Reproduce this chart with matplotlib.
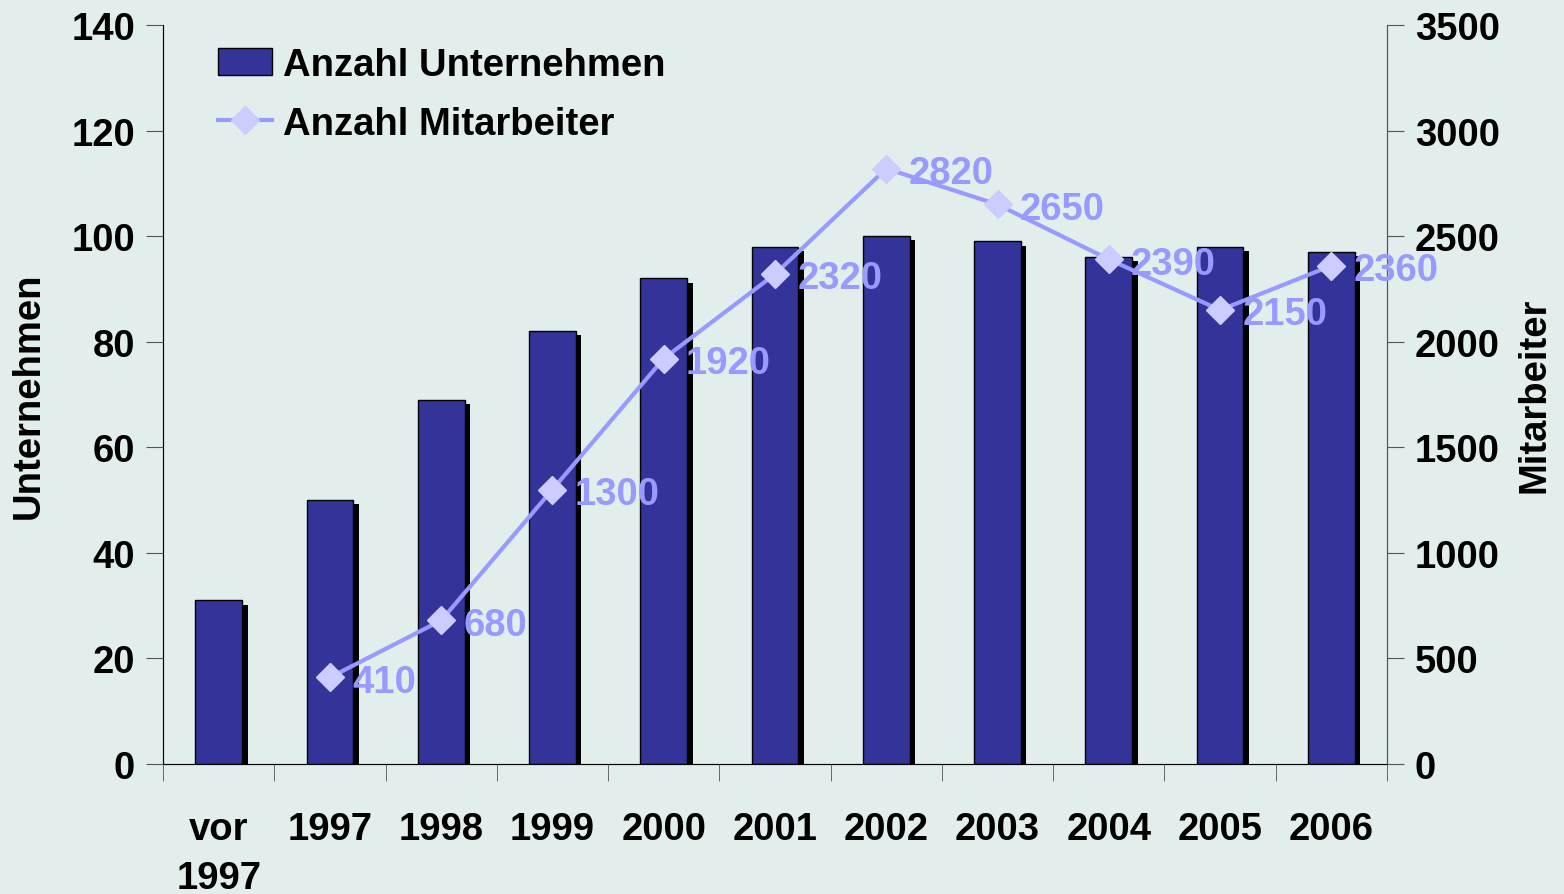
import numpy as np
import matplotlib.pyplot as plt
import matplotlib.patheffects as pe
from matplotlib.patches import Patch

plt.rcParams['font.family'] = ['Liberation Sans', 'DejaVu Sans']
plt.rcParams['font.weight'] = 'bold'

kategorien = ['vor\n1997', '1997', '1998', '1999', '2000', '2001', '2002', '2003', '2004', '2005', '2006']
unternehmen = [31, 50, 69, 82, 92, 98, 100, 99, 96, 98, 97]
ma_jahre = ['1997', '1998', '1999', '2000', '2001', '2002', '2003', '2004', '2005', '2006']
mitarbeiter = [410, 680, 1300, 1920, 2320, 2820, 2650, 2390, 2150, 2360]

fs = 27.5

fig = plt.figure(figsize=(15.64, 8.95), dpi=100, facecolor='#e1eeec')
ax = fig.add_axes([163/1564, 1 - 765/895, 1224/1564, 739/895])
ax.set_facecolor('none')

x = np.arange(len(kategorien))
bars = ax.bar(x, unternehmen, width=0.42, color='#333399', edgecolor='black', linewidth=1, zorder=3)
for b in bars:
    b.set_path_effects([pe.SimplePatchShadow(offset=(4, -3), shadow_rgbFace='black', alpha=1), pe.Normal()])

ax.set_xlim(-0.5, len(kategorien) - 0.5)
ax.set_ylim(0, 140)
ax.set_yticks(range(0, 141, 20))
ax.set_xticks(x)
ax.set_xticklabels(kategorien, fontsize=fs, fontweight='bold', va='top', linespacing=1.45)
ax.set_xticks(np.arange(-0.5, len(kategorien)), minor=True)
ax.tick_params(axis='x', which='major', length=0, pad=34)
ax.tick_params(axis='x', which='minor', length=12, direction='out', color='#555555')
ax.tick_params(axis='y', labelsize=fs, length=12, color='#555555', pad=8)
ax.set_ylabel('Unternehmen', fontsize=fs, fontweight='bold', labelpad=18)
ax.spines['top'].set_visible(False)
for s in ['left', 'bottom', 'right']:
    ax.spines[s].set_color('#555555')

ax2 = ax.twinx()
ax2.set_ylim(0, 3500)
ax2.set_yticks(range(0, 3501, 500))
ax2.tick_params(axis='y', labelsize=fs, length=12, color='#555555', pad=8)
ax2.spines['top'].set_visible(False)
ax2.spines['right'].set_color('#555555')
ax2.set_ylabel('Mitarbeiter', fontsize=fs, fontweight='bold', labelpad=12)

xm = np.arange(1, len(kategorien))
line, = ax2.plot(xm, mitarbeiter, color='#9999ff', lw=3, marker='D', markersize=14,
                 markerfacecolor='#ccccff', markeredgecolor='#ccccff', zorder=5)
for xi, v in zip(xm, mitarbeiter):
    ax2.annotate(str(v), (xi, v), xytext=(16, -3), textcoords='offset points', va='center', ha='left',
                 fontsize=fs, fontweight='bold', color='#9999ff', zorder=6)

for t in ax.get_yticklabels() + ax2.get_yticklabels() + ax.get_xticklabels():
    t.set_fontweight('bold')

proxy = Patch(facecolor='#333399', edgecolor='black', linewidth=1)
ax.legend([proxy, line], ['Anzahl Unternehmen', 'Anzahl Mitarbeiter'], loc='upper left',
          bbox_to_anchor=(0.017, 1.017), frameon=False, handlelength=1.4,
          handleheight=0.7, handletextpad=0.3, labelspacing=0.6, prop={'weight': 'bold', 'size': fs})

fig.savefig('out.png', dpi=100, facecolor=fig.get_facecolor())
